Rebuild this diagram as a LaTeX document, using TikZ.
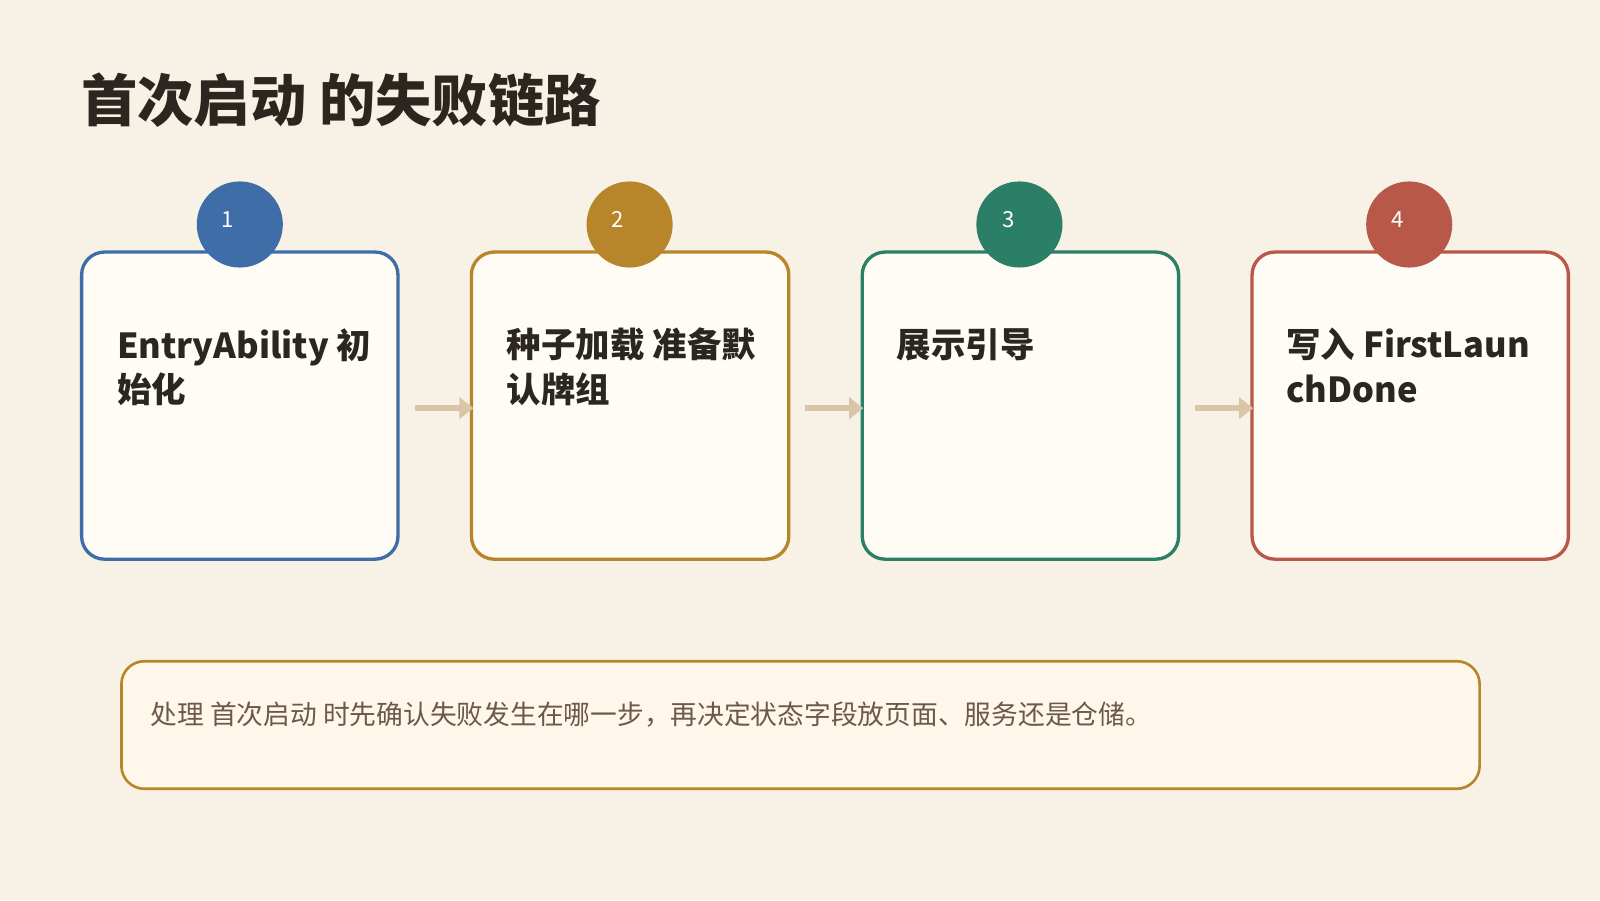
\documentclass[tikz,border=0pt]{standalone}
\usepackage{fontspec}
\setmainfont{Noto Sans CJK SC}
\usetikzlibrary{arrows.meta}
\definecolor{bg}{HTML}{F8F1E5}
\definecolor{card}{HTML}{FFFCF5}
\definecolor{memofill}{HTML}{FFF7E9}
\definecolor{ink}{HTML}{2B2620}
\definecolor{note}{HTML}{6B5A48}
\definecolor{link}{HTML}{D9C6A8}
\definecolor{cA}{HTML}{3E6DA8}
\definecolor{cB}{HTML}{B8862A}
\definecolor{cC}{HTML}{2A7F66}
\definecolor{cD}{HTML}{B85848}
\tikzset{
  step/.style={draw=#1, line width=0.95pt, fill=card, rounded corners=6.5pt},
  badge/.style={circle, fill=#1, minimum size=0.86cm, inner sep=0pt},
  num/.style={text=white, font=\fontsize{6.3}{7}\selectfont},
  steptext/.style={anchor=north west, align=left, text=ink, inner sep=0pt,
    font=\fontsize{9.8}{12.6}\selectfont\bfseries},
  flow/.style={draw=link, line width=1.8pt, -{Triangle[length=4pt,width=6pt]}}
}
\begin{document}
\begin{tikzpicture}[x=0.0102cm, y=-0.0102cm]
		\useasboundingbox[fill=bg] (0,0) rectangle (1568,882);
		\node[anchor=west, text=ink, inner sep=0pt, font=\fontsize{16}{19}\selectfont\bfseries] (title) at (79,98) {首次启动 的失败链路};
		
		\draw[step=cA] (80,247) rectangle (390,548);
		\draw[step=cB] (462,247) rectangle (773,548);
		\draw[step=cC] (845,247) rectangle (1155,548);
		\draw[step=cD] (1227,247) rectangle (1537,548);
		
		\node[badge=cA] (b1) at (235,220) {};
		\node[badge=cB] (b2) at (617,220) {};
		\node[badge=cC] (b3) at (999,220) {};
		\node[badge=cD] (b4) at (1381,220) {};
		\foreach \i/\x in {1/223, 2/605, 3/988, 4/1370}
			\node[num] (n\i) at (\x,215) {\i};
		
		\node[steptext] (t1) at (114,321) {EntryAbility 初\\始化};
		\node[steptext] (t2) at (496,321) {种子加载 准备默\\认牌组};
		\node[steptext] (t3) at (878,321) {展示引导};
		\node[steptext] (t4) at (1260,321) {写入 FirstLaun\\chDone};
		
		\coordinate (a1) at (407,400); \coordinate (e1) at (464,400);
		\coordinate (a2) at (789,400); \coordinate (e2) at (846,400);
		\coordinate (a3) at (1171,400); \coordinate (e3) at (1228,400);
		\foreach \i in {1,2,3} \draw[flow] (a\i) -- (e\i);
		
		\draw[draw=cB, line width=0.75pt, fill=memofill, rounded corners=6.5pt] (119,648) rectangle (1450,773);
		\node[anchor=west, text=note, inner sep=0pt, font=\fontsize{7.6}{9}\selectfont] (memo) at (147,700)
			{处理 首次启动 时先确认失败发生在哪一步，再决定状态字段放页面、服务还是仓储。};
\end{tikzpicture}
\end{document}
